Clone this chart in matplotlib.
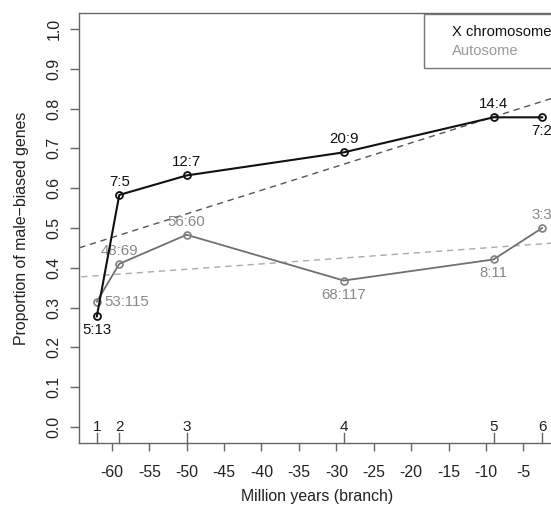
import matplotlib
matplotlib.use("Agg")
import matplotlib.pyplot as plt
from matplotlib.patches import Rectangle
import numpy as np

plt.rcParams['font.family'] = ['Liberation Sans', 'DejaVu Sans']
plt.rcParams['axes.unicode_minus'] = False

# Data
branch_x = [-62, -59, -50, -29, -9, -2.5]
branch_labels = ["1", "2", "3", "4", "5", "6"]

x_chrom_prop = [0.278, 0.583, 0.632, 0.690, 0.778, 0.778]
x_chrom_labels = ["5:13", "7:5", "12:7", "20:9", "14:4", "7:2"]
x_chrom_label_side = ["below", "above", "above", "above", "above", "below"]

auto_prop = [0.315, 0.410, 0.483, 0.368, 0.421, 0.500]
auto_labels = ["53:115", "48:69", "56:60", "68:117", "8:11", "3:3"]
auto_label_side = ["right", "above", "above", "below", "below", "above"]

x_ticks = list(range(-60, 0, 5))
y_ticks = [0.0, 0.1, 0.2, 0.3, 0.4, 0.5, 0.6, 0.7, 0.8, 0.9, 1.0]

W, H = 551, 512
fig = plt.figure(figsize=(W / 100, H / 100), dpi=100)
ax = fig.add_axes([79 / W, (H - 443) / H, (560 - 79) / W, (443 - 13) / H])
ax.set_xlim(-64.38, -0.12)
ax.set_ylim(-0.04, 1.04)

spine_col = '#666666'
for s in ax.spines.values():
    s.set_color(spine_col)
    s.set_linewidth(1.0)

# regression lines (fit through the plotted points)
xx = np.array([-70, 5])
bx = np.polyfit(branch_x, x_chrom_prop, 1)
ba = np.polyfit(branch_x, auto_prop, 1)
ax.plot(xx, np.polyval(bx, xx), color='#555555', lw=1.0, ls=(0, (4.5, 3.5)))
ax.plot(xx, np.polyval(ba, xx), color='#aaaaaa', lw=1.0, ls=(0, (4.5, 3.5)))

# series
ax.plot(branch_x, auto_prop, color='#707070', lw=1.3, marker='o', ms=5,
        mfc='none', mec='#808080', mew=1.2, zorder=3)
ax.plot(branch_x, x_chrom_prop, color='#111111', lw=1.5, marker='o', ms=5,
        mfc='none', mec='#111111', mew=1.3, zorder=4)

def put_labels(xs, ys, labels, sides, color):
    for x, y, t, s in zip(xs, ys, labels, sides):
        if s == "above":
            off, ha = (0, 13), 'center'
        elif s == "below":
            off, ha = (0, -14), 'center'
        else:
            off, ha = (8, 0), 'left'
        ax.annotate(t, (x, y), xytext=off, textcoords='offset pixels',
                    ha=ha, va='center', fontsize=10.8, color=color,
                    annotation_clip=False)

put_labels(branch_x, x_chrom_prop, x_chrom_labels, x_chrom_label_side, '#111111')
put_labels(branch_x, auto_prop, auto_labels, auto_label_side, '#888888')

# axes ticks
ax.set_xticks(x_ticks)
ax.set_xticklabels([str(v) for v in x_ticks])
ax.set_yticks(y_ticks)
ax.set_yticklabels([f"{v:.1f}" for v in y_ticks], rotation=90, va='center')
ax.tick_params(axis='x', length=6, width=1, color=spine_col, pad=10,
               labelsize=11.4, labelcolor='#222222')
ax.tick_params(axis='y', length=6.5, width=1, color=spine_col, pad=6,
               labelsize=11.4, labelcolor='#222222')

# branch tick marks inside the axis
trans = ax.get_xaxis_transform()
for bxv, lab in zip(branch_x, branch_labels):
    ax.plot([bxv, bxv], [0, 10 / 430], color=spine_col, lw=1.0,
            transform=trans, clip_on=False)
    ax.annotate(lab, (bxv, 0), xytext=(0, 16), textcoords='offset pixels',
                xycoords=trans, ha='center', va='center', fontsize=11,
                color='#222222')

fig.text(317 / W, (H - 496) / H, "Million years (branch)", ha='center',
         va='center', fontsize=11.4, color='#222222')
fig.text(21.5 / W, (H - 228) / H, "Proportion of male\u2212biased genes",
         rotation=90, ha='center', va='center', fontsize=11.4, color='#222222')

# legend box (text only)
fig.patches.append(Rectangle((424 / W, (H - 68) / H), (560 - 424) / W, 54 / H,
                             transform=fig.transFigure, fill=False,
                             edgecolor='#777777', lw=1.0))
fig.text(452 / W, (H - 32) / H, "X chromosome", ha='left', va='center',
         fontsize=10.6, color='#111111')
fig.text(452 / W, (H - 51) / H, "Autosome", ha='left', va='center',
         fontsize=10.6, color='#999999')

fig.savefig("out.png", dpi=100)
